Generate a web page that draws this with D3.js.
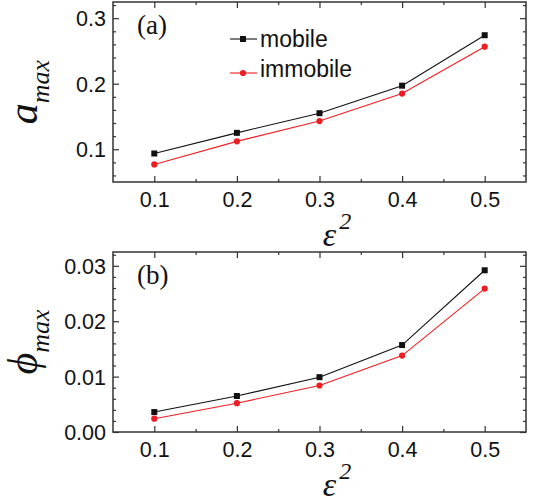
<!DOCTYPE html>
<html>
<head>
<meta charset="utf-8">
<script src="https://cdn.jsdelivr.net/npm/d3@7.9.0/dist/d3.min.js"></script>
<style>
  body { margin: 0; background: #fff; }
  svg { display: block; }
  .tick text { font-family: "Liberation Sans", Arial, sans-serif; font-size: 21.5px; fill: #111; }
  .ttl { font-family: "Liberation Serif", "Times New Roman", serif; font-style: italic; fill: #111; }
</style>
</head>
<body>
<svg id="chart" width="533" height="503"></svg>
<script>
// data
const eps2 = [0.1, 0.2, 0.3, 0.4, 0.5];
const aMobile = [0.0935, 0.125, 0.155, 0.197, 0.274];
const aImmobile = [0.0768, 0.112, 0.143, 0.185, 0.2565];
const phiMobile = [0.0036, 0.0065, 0.0099, 0.0157, 0.0292];
const phiImmobile = [0.0024, 0.0052, 0.0084, 0.0138, 0.0259];

const xTicks = [0.1, 0.2, 0.3, 0.4, 0.5];
const xMinor = [0.15, 0.25, 0.35, 0.45];
const aTicks = [0.1, 0.2, 0.3];
const aMinor = [0.06, 0.08, 0.12, 0.14, 0.16, 0.18, 0.22, 0.24, 0.26, 0.28, 0.32];
const phiTicks = [0.00, 0.01, 0.02, 0.03];
const phiMinor = [0.002, 0.004, 0.006, 0.008, 0.012, 0.014, 0.016, 0.018, 0.022, 0.024, 0.026, 0.028, 0.032];

const legendLabels = ['mobile', 'immobile'];
const colors = ['#111', '#ee1d23'];

const svg = d3.select('#chart');
const left = 113, right = 526;

const x = d3.scaleLinear().domain([0.05, 0.55]).range([left, right]);

function panel(cfg) {
  const y = d3.scaleLinear().domain(cfg.domain).range([cfg.bottom, cfg.top]);
  const g = svg.append('g');

  // minor ticks on all four sides (top/right also carry the major ones)
  const minorAxes = [
    [d3.axisBottom(x).tickValues(xMinor), `translate(0,${cfg.bottom})`],
    [d3.axisTop(x).tickValues(xMinor.concat(xTicks)), `translate(0,${cfg.top})`],
    [d3.axisLeft(y).tickValues(cfg.minor), `translate(${left},0)`],
    [d3.axisRight(y).tickValues(cfg.minor.concat(cfg.ticks)), `translate(${right},0)`],
  ];
  minorAxes.forEach(([ax, tr], i) => {
    g.append('g').attr('transform', tr)
      .call(ax.tickFormat('').tickSizeInner(-3).tickSizeOuter(0))
      .call(s => s.select('.domain').remove())
      .call(s => s.selectAll('line').attr('stroke', '#333').attr('stroke-width', 1.2)
        .filter(d => (i == 1 ? xTicks : cfg.ticks).includes(d) && (i == 1 || i == 3))
        .attr(i == 1 ? 'y2' : 'x2', 6 * (i == 1 ? 1 : -1)));
  });

  g.append('g').attr('transform', `translate(0,${cfg.bottom})`)
    .call(d3.axisBottom(x).tickValues(xTicks).tickFormat(d3.format('.1f')).tickSizeInner(-6).tickSizeOuter(0).tickPadding(10))
    .call(s => s.select('.domain').remove())
    .call(s => s.selectAll('line').attr('stroke', '#333').attr('stroke-width', 1.2));

  g.append('g').attr('transform', `translate(${left},0)`)
    .call(d3.axisLeft(y).tickValues(cfg.ticks).tickFormat(d3.format(cfg.fmt)).tickSizeInner(-6).tickSizeOuter(0).tickPadding(7))
    .call(s => s.select('.domain').remove())
    .call(s => s.selectAll('line').attr('stroke', '#333').attr('stroke-width', 1.2))
    .call(s => s.selectAll('text').attr('dy', '0.36em'));

  // frame
  g.append('rect')
    .attr('x', left).attr('y', cfg.top)
    .attr('width', right - left).attr('height', cfg.bottom - cfg.top)
    .attr('fill', 'none').attr('stroke', '#333').attr('stroke-width', 1.5);

  const line = d3.line().x((d, i) => x(eps2[i])).y(d => y(d));

  cfg.series.forEach((vals, k) => {
    g.append('path').datum(vals)
      .attr('d', line).attr('fill', 'none')
      .attr('stroke', colors[k]).attr('stroke-width', 1.1);
    if (k == 0) {
      g.selectAll(null).data(vals).join('rect')
        .attr('x', (d, i) => x(eps2[i]) - 3).attr('y', d => y(d) - 3)
        .attr('width', 6).attr('height', 6).attr('fill', colors[k]);
    } else {
      g.selectAll(null).data(vals).join('circle')
        .attr('cx', (d, i) => x(eps2[i])).attr('cy', d => y(d))
        .attr('r', 3.1).attr('fill', colors[k]);
    }
  });

  // panel tag
  g.append('text')
    .attr('x', 137).attr('y', cfg.top + 32)
    .attr('font-family', '"Liberation Serif", "Times New Roman", serif')
    .attr('font-size', 27).attr('fill', '#111')
    .text(cfg.tag);

  // y title
  const yt = g.append('text').attr('class', 'ttl')
    .attr('transform', `translate(37,${(cfg.top + cfg.bottom) / 2}) rotate(-90)`)
    .attr('text-anchor', 'middle');
  yt.append('tspan').attr('font-size', 42).text(cfg.ylab);
  yt.append('tspan').attr('font-size', 26).attr('dy', 12).text('max');

  // x title
  const xt = g.append('text').attr('class', 'ttl')
    .attr('x', 337).attr('y', cfg.bottom + 64)
    .attr('text-anchor', 'middle');
  xt.append('tspan').attr('font-size', 34).text('\u03b5');
  xt.append('tspan').attr('font-size', 24).attr('dx', 3).attr('dy', -17).text('2');
}

panel({
  top: 2, bottom: 182, domain: [0.05, 0.3247],
  ticks: aTicks, minor: aMinor, fmt: '.1f',
  series: [aMobile, aImmobile], tag: '(a)', ylab: 'a'
});
panel({
  top: 252, bottom: 432, domain: [0, 0.0325],
  ticks: phiTicks, minor: phiMinor, fmt: '.2f',
  series: [phiMobile, phiImmobile], tag: '(b)', ylab: '\u03d5'
});

// legend in panel (a)
const legY = [39, 73];
const legTextY = [47, 77];
legendLabels.forEach((lab, k) => {
  svg.append('line')
    .attr('x1', 230).attr('x2', 257).attr('y1', legY[k]).attr('y2', legY[k])
    .attr('stroke', colors[k]).attr('stroke-width', 1.1);
  if (k == 0) {
    svg.append('rect').attr('x', 240).attr('y', legY[k] - 3).attr('width', 6).attr('height', 6).attr('fill', colors[k]);
  } else {
    svg.append('circle').attr('cx', 243).attr('cy', legY[k]).attr('r', 3.1).attr('fill', colors[k]);
  }
  svg.append('text')
    .attr('x', 260).attr('y', legTextY[k])
    .attr('font-family', '"Liberation Sans", Arial, sans-serif')
    .attr('font-size', 23).attr('fill', '#111')
    .text(lab);
});
</script>
</body>
</html>
